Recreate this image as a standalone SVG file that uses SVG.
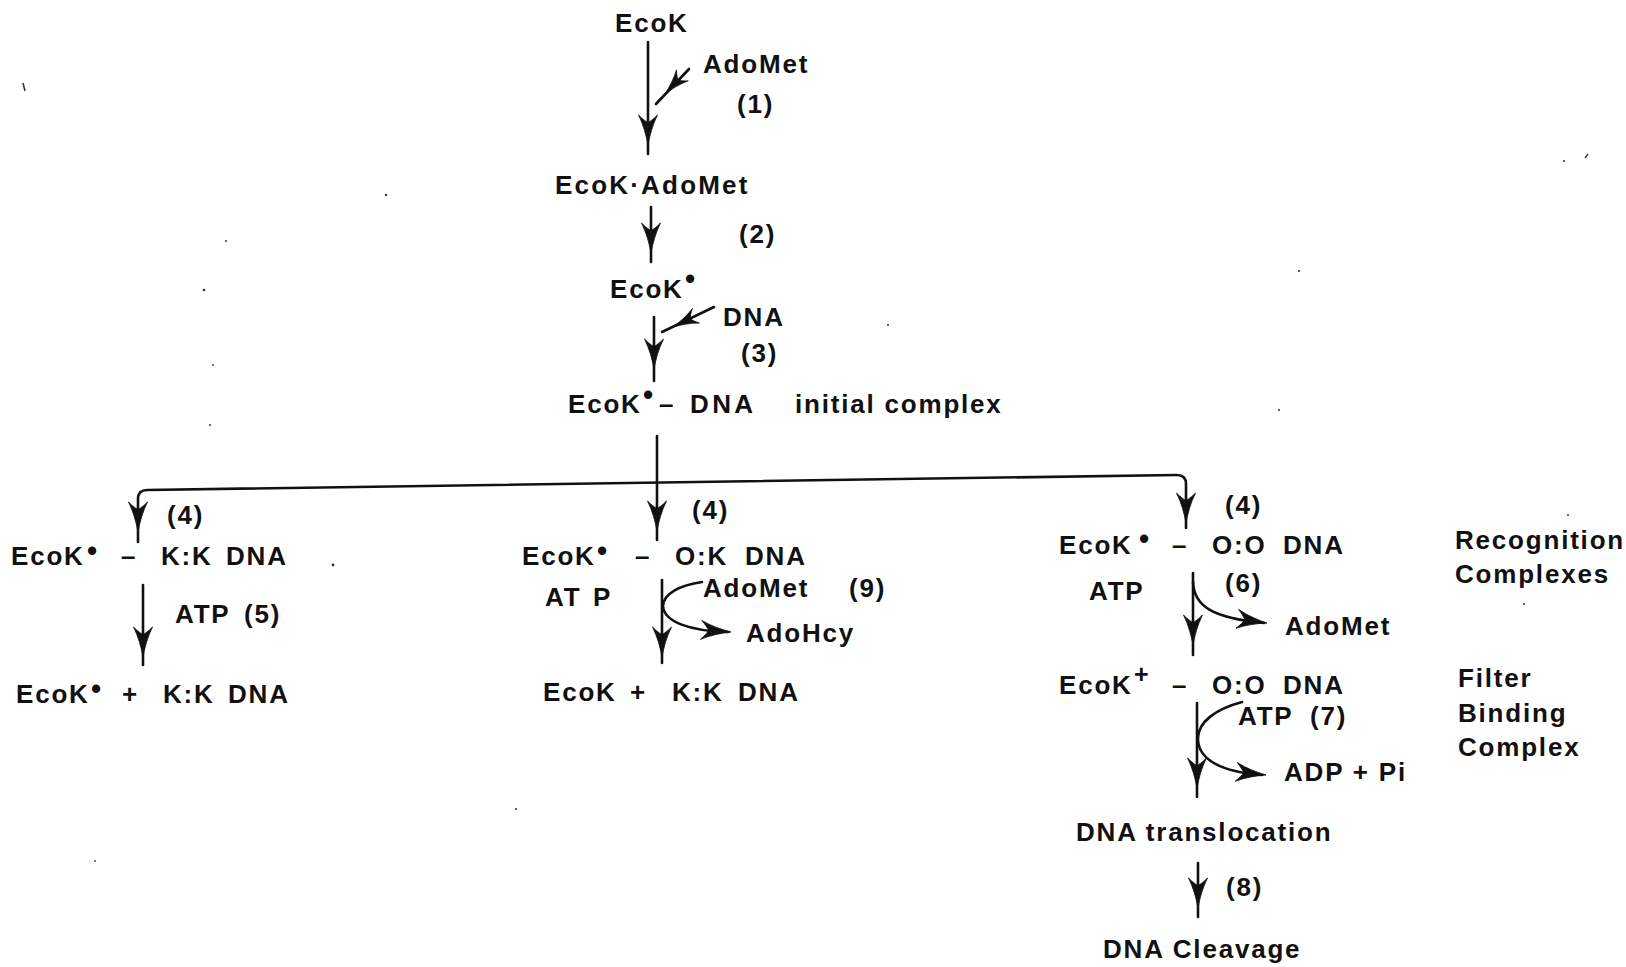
<svg xmlns="http://www.w3.org/2000/svg" xmlns:xlink="http://www.w3.org/1999/xlink" width="1626" height="967" viewBox="0 0 1626 967">
  <style>
    text { font-family: "Liberation Sans", Arial, sans-serif; font-weight: bold; font-size: 26px; fill: #111; letter-spacing: 1.8px; }
    .dot { font-size: 29px; }
    .plus { font-size: 25px; }
    .line { fill: none; stroke: #111; stroke-width: 2.6; stroke-linecap: round; stroke-linejoin: round; }
    .head { fill: #111; stroke: #111; stroke-width: 0.8; stroke-linejoin: round; }
    .speck { fill: #333; }
  </style>
  <defs>
    <!-- barbed dart head, pointing down, tip at the origin -->
    <path id="dart" class="head" d="M0,0 C-1.6,-9 -4.5,-20 -9.5,-30 C-5.5,-26 -2.2,-23.5 0,-22.5 C2.2,-23.5 5.5,-26 9.5,-30 C4.5,-20 1.6,-9 0,0 Z"/>
  </defs>
  <rect width="1626" height="967" fill="#fff"/>

  <!-- connectors -->
  <g id="connectors">
    <!-- (1) EcoK -> EcoK·AdoMet, AdoMet joining -->
    <path class="line" d="M648,42 V154"/>
    <use xlink:href="#dart" href="#dart" transform="translate(648,145)"/>
    <path class="line" d="M689,69 L656,104"/>
    <use xlink:href="#dart" href="#dart" transform="translate(665,94) rotate(43) scale(0.85)"/>

    <!-- (2) -->
    <path class="line" d="M651,207 V262"/>
    <use xlink:href="#dart" href="#dart" transform="translate(651,253)"/>

    <!-- (3) with DNA joining -->
    <path class="line" d="M654,317 V381"/>
    <use xlink:href="#dart" href="#dart" transform="translate(654,369)"/>
    <path class="line" d="M714,307 L662,332"/>
    <use xlink:href="#dart" href="#dart" transform="translate(673,327) rotate(64) scale(0.85)"/>

    <!-- (4) branching to the three recognition complexes -->
    <path class="line" d="M657,436 V540"/>
    <use xlink:href="#dart" href="#dart" transform="translate(657,531)"/>
    <path class="line" d="M138,542 V499 Q138,490 147,490 L1177,475 Q1186,475 1186,484 V528"/>
    <use xlink:href="#dart" href="#dart" transform="translate(138,532)"/>
    <use xlink:href="#dart" href="#dart" transform="translate(1186,523)"/>

    <!-- (5) -->
    <path class="line" d="M143,585 V665"/>
    <use xlink:href="#dart" href="#dart" transform="translate(143,657)"/>

    <!-- (9) AdoMet in, AdoHcy out -->
    <path class="line" d="M662,580 V663"/>
    <use xlink:href="#dart" href="#dart" transform="translate(662,657)"/>
    <path class="line" d="M702,582 C680,585 663,594 663,606 C664,622 690,631 728,632"/>
    <use xlink:href="#dart" href="#dart" transform="translate(731,632) rotate(-86)"/>

    <!-- (6) AdoMet released -->
    <path class="line" d="M1193,573 V655"/>
    <use xlink:href="#dart" href="#dart" transform="translate(1193,645)"/>
    <path class="line" d="M1193,582 C1194,606 1212,618 1264,623"/>
    <use xlink:href="#dart" href="#dart" transform="translate(1267,623) rotate(-82)"/>

    <!-- (7) ATP in, ADP + Pi out -->
    <path class="line" d="M1197,703 V797"/>
    <use xlink:href="#dart" href="#dart" transform="translate(1197,788)"/>
    <path class="line" d="M1242,702 C1216,709 1197,722 1198,740 C1199,760 1222,772 1262,775"/>
    <use xlink:href="#dart" href="#dart" transform="translate(1266,775) rotate(-84)"/>

    <!-- (8) -->
    <path class="line" d="M1198,863 V917"/>
    <use xlink:href="#dart" href="#dart" transform="translate(1198,908)"/>
  </g>

  <!-- main pathway -->
  <g id="n-ecok"><text x="615" y="32">EcoK</text></g>
  <g id="n-adomet-1"><text x="703" y="73">AdoMet</text><text x="737" y="113">(1)</text></g>
  <g id="n-ecok-adomet"><text x="555" y="194" style="letter-spacing:2.2px">EcoK·AdoMet</text></g>
  <g id="n-step2"><text x="739" y="243">(2)</text></g>
  <g id="n-ecok-star"><text x="610" y="298">EcoK<tspan class="dot" x="685" y="289">•</tspan></text></g>
  <g id="n-dna"><text x="723" y="326">DNA</text><text x="741" y="362">(3)</text></g>
  <g id="n-initial">
    <text x="568" y="413">EcoK</text>
    <text x="643" y="405" class="dot">•</text>
    <text x="659" y="413">–</text>
    <text x="690" y="413" style="letter-spacing:3.4px">DNA</text>
    <text x="795" y="413">initial complex</text>
  </g>

  <!-- K:K branch -->
  <g id="n-kk">
    <text x="167" y="524">(4)</text>
    <text x="11" y="565">EcoK<tspan class="dot" x="87" y="561">•</tspan><tspan x="121" y="565">–</tspan><tspan x="161">K:K</tspan><tspan x="226">DNA</tspan></text>
    <text x="175" y="623">ATP<tspan x="244">(5)</tspan></text>
  </g>
  <g id="n-kk-free">
    <text x="16" y="703">EcoK<tspan class="dot" x="91" y="699">•</tspan><tspan x="122" y="703">+</tspan><tspan x="163">K:K</tspan><tspan x="228">DNA</tspan></text>
  </g>

  <!-- O:K branch -->
  <g id="n-ok">
    <text x="692" y="519">(4)</text>
    <text x="522" y="565">EcoK<tspan class="dot" x="597" y="561">•</tspan><tspan x="635" y="565">–</tspan><tspan x="675">O:K</tspan><tspan x="745">DNA</tspan></text>
    <text x="545" y="606">AT<tspan x="593">P</tspan></text>
    <text x="703" y="597">AdoMet</text>
    <text x="849" y="597">(9)</text>
    <text x="746" y="642">AdoHcy</text>
  </g>
  <g id="n-ok-free">
    <text x="543" y="701">EcoK<tspan x="630">+</tspan><tspan x="672">K:K</tspan><tspan x="738">DNA</tspan></text>
  </g>

  <!-- O:O branch -->
  <g id="n-oo">
    <text x="1225" y="514">(4)</text>
    <text x="1059" y="554">EcoK<tspan class="dot" x="1139" y="549">•</tspan><tspan x="1172" y="554">–</tspan><tspan x="1212">O:O</tspan><tspan x="1283">DNA</tspan></text>
    <text x="1089" y="600">ATP</text>
    <text x="1225" y="592">(6)</text>
    <text x="1285" y="635">AdoMet</text>
  </g>
  <g id="n-recognition"><text x="1455" y="549">Recognition</text><text x="1455" y="583">Complexes</text></g>
  <g id="n-oo-plus">
    <text x="1059" y="694">EcoK<tspan class="plus" x="1134" y="683">+</tspan><tspan x="1172" y="694">–</tspan><tspan x="1212">O:O</tspan><tspan x="1283">DNA</tspan></text>
    <text x="1238" y="725">ATP<tspan x="1310">(7)</tspan></text>
    <text x="1284" y="781">ADP + Pi</text>
  </g>
  <g id="n-filter"><text x="1458" y="687">Filter</text><text x="1458" y="722">Binding</text><text x="1458" y="756">Complex</text></g>
  <g id="n-translocation"><text x="1076" y="841">DNA translocation</text><text x="1226" y="896">(8)</text></g>
  <g id="n-cleavage"><text x="1103" y="958">DNA Cleavage</text></g>

  <!-- stray specks on the page -->
  <g id="specks">
    <path d="M23,83 L25,91" stroke="#333" stroke-width="1.6"/>
    <circle class="speck" cx="386" cy="195" r="1.2"/>
    <circle class="speck" cx="226" cy="241" r="1"/>
    <circle class="speck" cx="204" cy="290" r="1.3"/>
    <circle class="speck" cx="213" cy="365" r="0.9"/>
    <circle class="speck" cx="210" cy="425" r="1"/>
    <circle class="speck" cx="333" cy="565" r="1.4"/>
    <circle class="speck" cx="888" cy="325" r="1.1"/>
    <circle class="speck" cx="1299" cy="271" r="1.1"/>
    <circle class="speck" cx="1279" cy="410" r="1"/>
    <circle class="speck" cx="1568" cy="515" r="1"/>
    <circle class="speck" cx="1524" cy="604" r="1"/>
    <circle class="speck" cx="1564" cy="161" r="1"/>
    <path d="M1585,158 L1588,154" stroke="#333" stroke-width="1.4"/>
    <circle class="speck" cx="516" cy="809" r="1"/>
    <circle class="speck" cx="95" cy="861" r="0.9"/>
  </g>
</svg>
